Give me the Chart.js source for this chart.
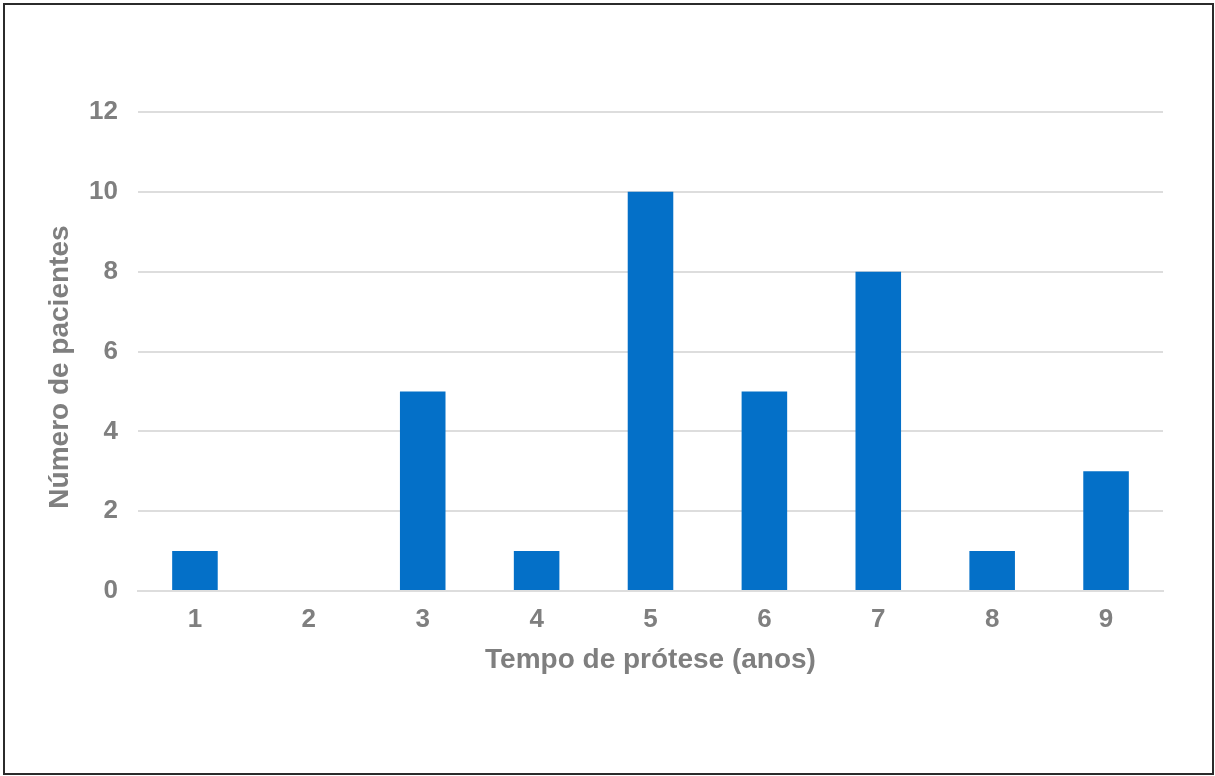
<!DOCTYPE html>
<html>
<head>
<meta charset="utf-8">
<script src="https://cdn.jsdelivr.net/npm/chart.js@4"></script>
<style>
  html, body { margin: 0; padding: 0; background: #ffffff; }
  #frame {
    position: absolute; left: 3px; top: 3px;
    width: 1211px; height: 772px;
    box-sizing: border-box; border: 2px solid #2b2b2b;
  }
  #chart { position: absolute; left: 0; top: 0; }
</style>
</head>
<body>
<div id="frame"></div>
<canvas id="chart" width="1215" height="776"></canvas>
<script>
// Years with a prosthesis and number of patients in each group
const anos = ['1', '2', '3', '4', '5', '6', '7', '8', '9'];
const pacientes = [1, 0, 5, 1, 10, 5, 8, 1, 3];
const yTicks = [0, 2, 4, 6, 8, 10, 12];

const cinza = '#7f7f7f';
const grade = '#dddddd';
const fonte = '"Liberation Sans", Arial, Helvetica, sans-serif';

new Chart(document.getElementById('chart'), {
  type: 'bar',
  data: {
    labels: anos,
    datasets: [{
      data: pacientes,
      backgroundColor: '#0470c8',
      borderWidth: 0,
      categoryPercentage: 1.0,
      barPercentage: 0.4
    }]
  },
  options: {
    responsive: false,
    animation: false,
    devicePixelRatio: 1,
    layout: { padding: { left: 0, top: 112, right: 52, bottom: 85 } },
    plugins: { legend: { display: false }, tooltip: { enabled: false } },
    scales: {
      x: {
        afterFit: (s) => { s.height = 100; },
        grid: { display: false, drawTicks: false },
        border: { display: true, color: grade, width: 2 },
        ticks: {
          color: cinza, padding: 13,
          font: { family: fonte, size: 26, weight: 'bold' }
        },
        title: {
          display: true, text: 'Tempo de prótese (anos)', color: cinza,
          padding: { top: 0, bottom: 14 },
          font: { family: fonte, size: 28, weight: 'bold' }
        }
      },
      y: {
        min: 0, max: 12,
        afterFit: (s) => { s.width = 138; },
        afterBuildTicks: (s) => { s.ticks = yTicks.map(v => ({ value: v })); },
        grid: { color: grade, lineWidth: 2, drawTicks: false },
        border: { display: false },
        ticks: {
          color: cinza, padding: 20,
          font: { family: fonte, size: 26, weight: 'bold' }
        },
        title: {
          display: true, text: 'Número de pacientes    ', color: cinza,
          padding: { top: 43, bottom: 0 },
          font: { family: fonte, size: 28, weight: 'bold' }
        }
      }
    }
  }
});
</script>
</body>
</html>
